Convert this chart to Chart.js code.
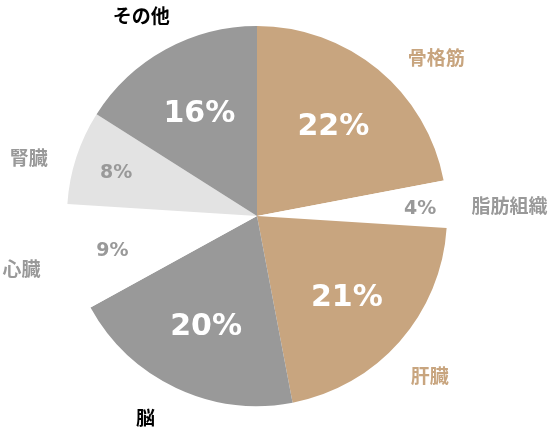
<!DOCTYPE html>
<html>
<head>
<meta charset="utf-8">
<script src="https://cdn.jsdelivr.net/npm/chart.js@4"></script>
<style>
  html, body { margin: 0; padding: 0; background: #fff; }
  #wrap { width: 550px; height: 436px; }
</style>
</head>
<body>
<div id="wrap"><canvas id="pieChart"></canvas></div>
<script>
// 臓器別のエネルギー消費割合
const organs = ['骨格筋', '脂肪組織', '肝臓', '脳', '心臓', '腎臓', 'その他'];
const shares = [22, 4, 21, 20, 9, 8, 16];
const sliceColors = ['#C8A57F', '#FFFFFF', '#C8A57F', '#999999', '#FFFFFF', '#E3E3E3', '#999999'];
const nameColors = ['#C8A57F', '#999999', '#C8A57F', '#000000', '#999999', '#999999', '#000000'];
const pctColors = ['#FFFFFF', '#999999', '#FFFFFF', '#FFFFFF', '#999999', '#999999', '#FFFFFF'];

const JP_FONT = '"Noto Sans CJK JP", "Noto Sans", sans-serif';
const NUM_FONT = '"DejaVu Sans", sans-serif';

// 名前ラベルの位置調整（半径に対する距離、角度のずれ）
const nameDist = [1.26, 1.33, 1.24, 1.215, 1.27, 1.24, 1.215];
const nameShift = [8.9, 1.3, 1.4, 3.7, 0, -3.6, -1.3];

const labelPlugin = {
    id: 'sliceLabels',
    afterDatasetsDraw(chart) {
        const ctx = chart.ctx;
        const meta = chart.getDatasetMeta(0);
        ctx.save();
        ctx.textAlign = 'center';
        ctx.textBaseline = 'middle';
        meta.data.forEach((arc, i) => {
            const { x, y, startAngle, endAngle, outerRadius } = arc.getProps(['x', 'y', 'startAngle', 'endAngle', 'outerRadius'], true);
            const mid = (startAngle + endAngle) / 2;
            const big = shares[i] >= 10;
            // パーセント
            const pr = outerRadius * (big ? 0.63 : (shares[i] < 5 ? 0.86 : 0.78));
            ctx.font = big ? 'bold 30px ' + NUM_FONT : 'bold 19px ' + NUM_FONT;
            ctx.fillStyle = pctColors[i];
            ctx.fillText(shares[i] + '%', x + Math.cos(mid) * pr, y + Math.sin(mid) * pr + 3);
            // 名前
            ctx.font = 'bold 19px ' + JP_FONT;
            const a = mid + nameShift[i] * Math.PI / 180;
            const nr = outerRadius * nameDist[i];
            ctx.fillStyle = nameColors[i];
            ctx.fillText(organs[i], x + Math.cos(a) * nr, y + Math.sin(a) * nr);
        });
        ctx.restore();
    }
};

new Chart(document.getElementById('pieChart'), {
    type: 'pie',
    data: {
        labels: organs,
        datasets: [{
            data: shares,
            backgroundColor: sliceColors,
            borderWidth: 0
        }]
    },
    options: {
        responsive: true,
        maintainAspectRatio: false,
        animation: false,
        layout: { padding: { left: 67, right: 103, top: 26, bottom: 30 } },
        plugins: {
            legend: { display: false },
            tooltip: { enabled: false }
        }
    },
    plugins: [labelPlugin]
});
</script>
</body>
</html>
